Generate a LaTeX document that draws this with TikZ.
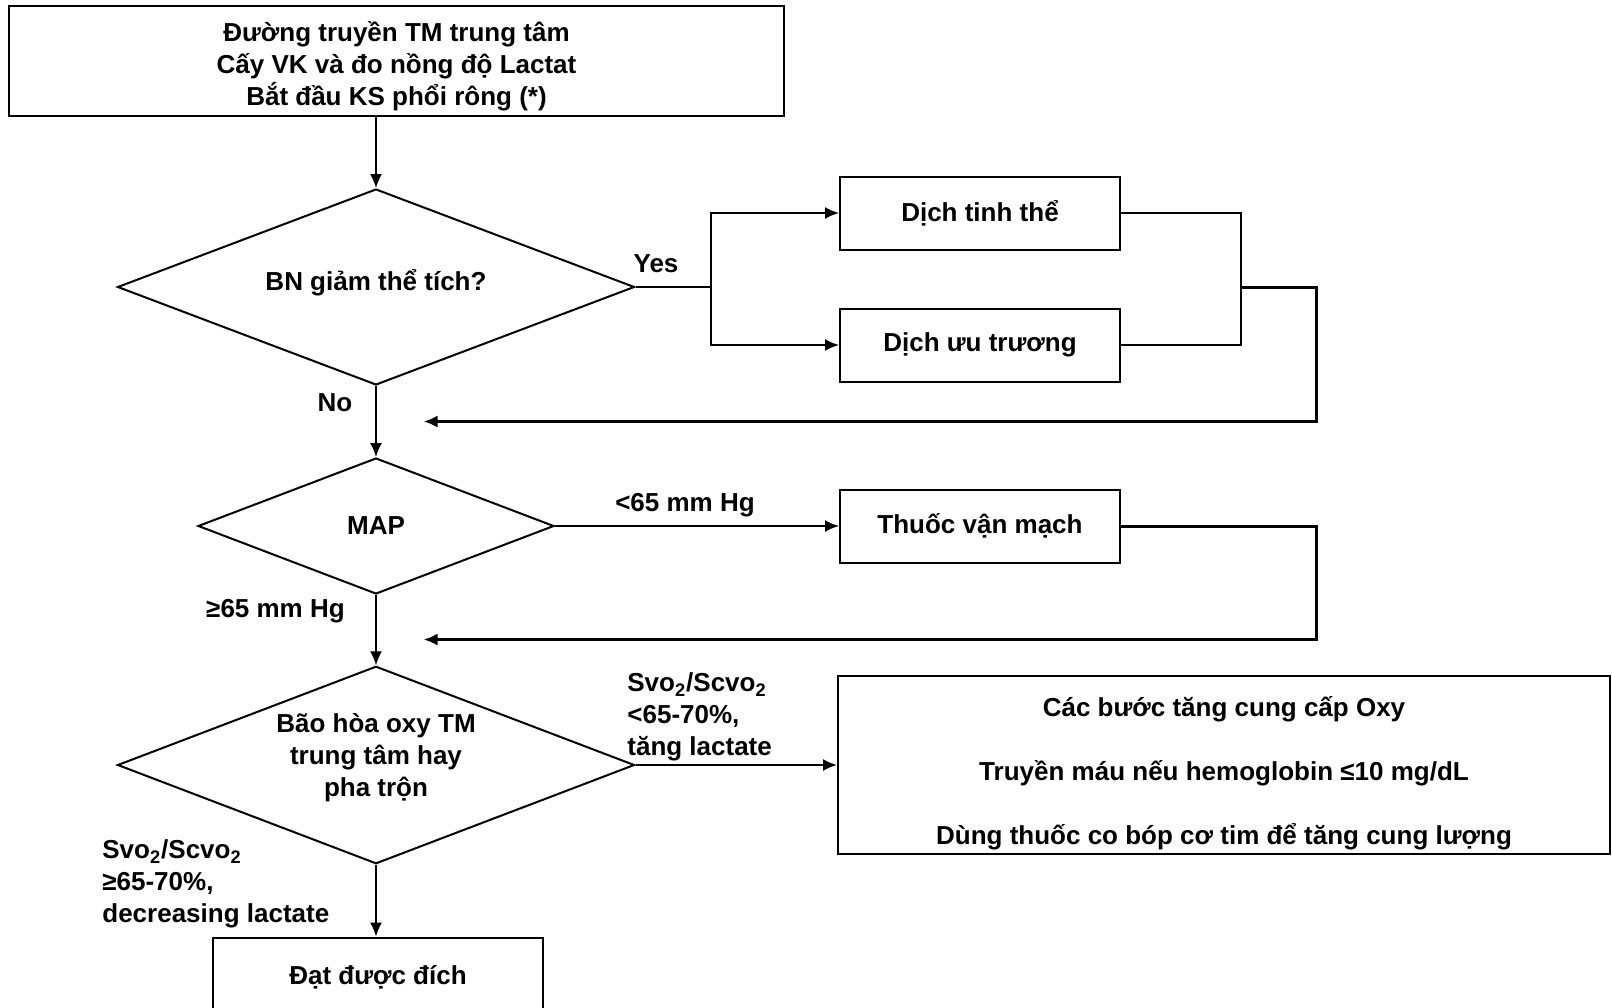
\documentclass[tikz,border=0pt]{standalone}
\usepackage{fontspec}
\setmainfont{Liberation Sans}
\usetikzlibrary{shapes.geometric,arrows.meta,positioning}

\begin{document}
\begin{tikzpicture}[x=0.5pt,y=-0.5pt,
font=\fontsize{13}{16}\selectfont\bfseries,
block/.style={rectangle,draw,line width=1pt,text centered,minimum width=140pt,minimum height=36.5pt,inner sep=2pt},
decision/.style={diamond,draw,line width=1pt,aspect=2.6,inner sep=1pt,text centered},
line/.style={draw,line width=1pt,-{Latex[length=7pt,width=6pt]}},
back/.style={draw,line width=1.5pt,-{Latex[length=7pt,width=6pt]}},
tag/.style={inner sep=0pt,align=left}]

\clip (0,0) rectangle (1612,1007);

\node [block,minimum width=387.5pt,minimum height=55pt,align=center] (top) at (396.5,61) {\rule{0pt}{15pt}Đường truyền TM trung tâm\\Cấy VK và đo nồng độ Lactat\\Bắt đầu KS phổi rông (*)};

\node [decision,minimum width=258.5pt,minimum height=98pt] (vol) at (376,287) {BN giảm thể tích?\rule[-7pt]{0pt}{0pt}};
\node [block] (cry) at (980,213) {Dịch tinh thể};
\node [block,below=28.5pt of cry] (hyp) {Dịch ưu trương};

\node [decision,minimum width=178pt,minimum height=68pt] (map) at (376,526) {MAP};
\node [block] (vaso) at (980,526) {Thuốc vận mạch};

\node [decision,minimum width=258.5pt,minimum height=98.75pt,align=center] (sat) at (376,765) {Bão hòa oxy TM\\trung tâm hay\\pha trộn\rule[-10pt]{0pt}{0pt}};
\node [block,minimum width=386pt,minimum height=86.75pt,align=center] (oxy) at (1224,765) {\rule{0pt}{18pt}Các bước tăng cung cấp Oxy\\[16pt]Truyền máu nếu hemoglobin ≤10 mg/dL\\[16pt]Dùng thuốc co bóp cơ tim để tăng cung lượng};
\node [block,minimum width=165pt,minimum height=40pt] (goal) at (378,977.5) {Đạt được đích};

% branch labels
\node [tag] (yes) at (656,264) {Yes};
\node [tag] (no) at (335,403) {No};
\node [tag] (lo) at (685,505) {<65 mm Hg};
\node [tag] (hi) at (275.5,611) {≥65 mm Hg};
\node [tag,anchor=west] (slo) at (627,717) {Svo\textsubscript{2}/Scvo\textsubscript{2}\\<65-70\%,\\tăng lactate};
\node [tag,anchor=west] (shi) at (102,884) {Svo\textsubscript{2}/Scvo\textsubscript{2}\\≥65-70\%,\\decreasing lactate};

\coordinate (fork) at (711,287);
\coordinate (join) at (1241,287);
\coordinate (retA) at (1316,421.5);
\coordinate (fbA) at (423.5,421.5);
\coordinate (retB) at (1316,639.5);
\coordinate (fbB) at (423.5,639.5);

\path [line,line width=0.75pt] (vol.north |- top.south) -- (vol.north);
\draw [line width=1pt] (vol.east) -- (fork);
\path [line] (fork) |- (cry.west);
\path [line] (fork) |- (hyp.west);
\draw [line width=1pt] (cry.east) -| (join) (hyp.east) -| (join);
\path [back] (join) -- (join -| retA) -- (retA) -- (fbA);

\path [line,line width=0.75pt] (vol.south) -- (map.north);
\path [line] (map.east) -- (vaso.west);
\path [back] (vaso.east) -| (retB) -- (fbB);

\path [line,line width=0.75pt] (map.south) -- (sat.north);
\path [line] (sat.east) -- (sat.east -| oxy.west);
\path [line,line width=0.75pt] (sat.south) -- (sat.south |- goal.north);
\end{tikzpicture}
\end{document}
